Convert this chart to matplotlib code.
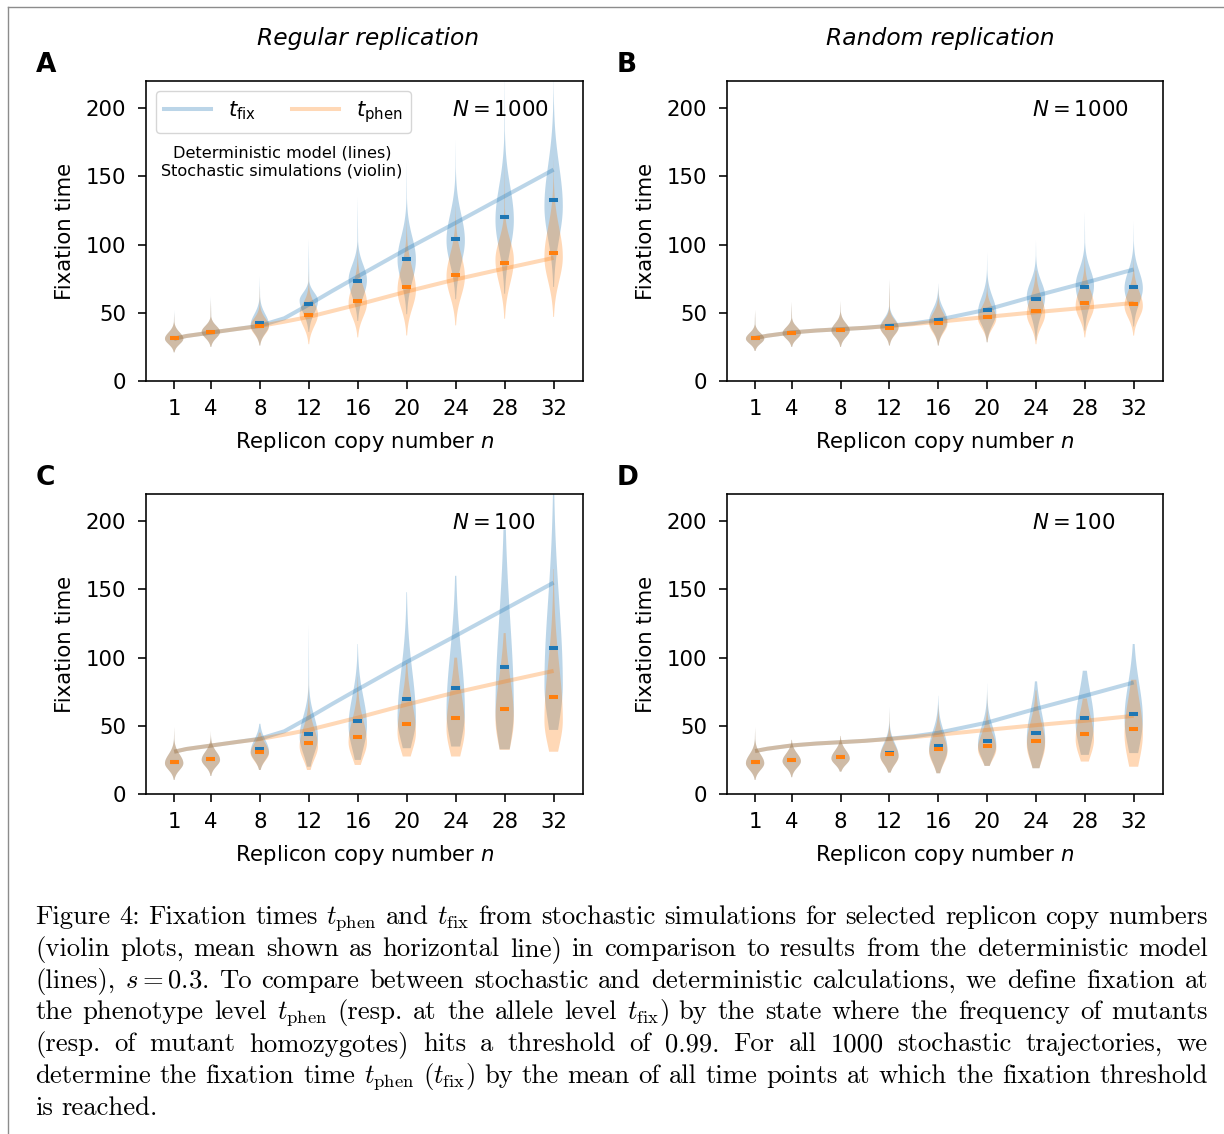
import numpy as np
import matplotlib
matplotlib.use("Agg")
import matplotlib.pyplot as plt
from matplotlib.lines import Line2D

# replicon copy numbers with simulations
n_sim = [1, 4, 8, 12, 16, 20, 24, 28, 32]

# deterministic model curves
line_n = [1, 2, 4, 6, 8, 10, 12, 14, 16, 20, 24, 28, 32]
reg_fix = [31, 33, 35.5, 38, 40.5, 46, 56, 66.5, 76.7, 96.8, 116, 135.5, 155]
reg_phen = [31, 33, 35.5, 38, 40.3, 43.5, 47, 51.5, 56, 65.6, 74.5, 82.5, 90.3]
rand_fix = [31.5, 33.2, 35.6, 37, 38, 39, 40.5, 42.3, 44.9, 52.4, 62.5, 72, 81.8]
rand_phen = [31.5, 33.2, 35.6, 37, 38, 39, 40.3, 41.8, 43.4, 47, 50.5, 53.7, 57.3]

# violin summaries: mean, mode (widest point), lowest and highest value
# A: regular replication, N = 1000
A_fix_mean = [31.5, 36, 42.5, 56.3, 73.3, 89.5, 104.5, 120.5, 133]
A_fix_mode = [31, 36, 41, 59, 74, 89, 103, 118, 128]
A_fix_lo = [21, 25, 26, 36, 44, 49, 60, 64, 69]
A_fix_hi = [52, 62, 77, 104, 135, 162, 177, 230, 230]
A_phen_mean = [31.5, 36, 40.3, 48.4, 58.8, 68.8, 78, 86.6, 94]
A_phen_mode = [31, 36, 40, 49, 57, 66.6, 76.5, 88.8, 91]
A_phen_lo = [21, 25, 26, 27, 32, 33.4, 40.8, 45.7, 47]
A_phen_hi = [50, 60, 70, 81, 103, 118, 128, 162, 162]

# B: random replication, N = 1000
B_fix_mean = [31.4, 35.3, 37.3, 40, 45, 52.2, 60.3, 69, 69]
B_fix_mode = [31, 35, 37, 39.5, 44, 50, 62, 70, 68]
B_fix_lo = [22, 25, 25, 26, 26, 28.4, 30, 37, 40]
B_fix_hi = [52, 58, 58.6, 74.5, 71.3, 94.6, 103, 124, 117]
B_phen_mean = [31.4, 35.3, 37.3, 39.2, 42.6, 46.6, 51.7, 57, 56.6]
B_phen_mode = [31, 35, 37, 39, 42, 46, 49, 55, 55]
B_phen_lo = [22, 25, 25, 26, 26, 28.4, 27, 32, 33.3]
B_phen_hi = [52, 58, 58.6, 74, 70, 76, 81, 91, 90]

# C: regular replication, N = 100
C_fix_mean = [23.8, 26, 33, 44, 53.7, 69.9, 77.7, 93, 107]
C_fix_mode = [22.5, 25, 31, 42, 50, 55, 60, 62, 80]
C_fix_lo = [10.3, 13.2, 17.6, 20, 25, 33.6, 34.8, 32.8, 47]
C_fix_hi = [49, 45.8, 51.5, 124, 110, 148, 160, 194, 225]
C_phen_mean = [23.8, 26, 31, 37.7, 42, 51.5, 55.6, 62.5, 71]
C_phen_mode = [22.5, 25, 30, 35, 38, 45, 48, 55, 54]
C_phen_lo = [10.3, 13.2, 17.6, 17.6, 21.3, 27.5, 27.5, 32.4, 31]
C_phen_hi = [49, 45.8, 45, 86, 86, 96, 100, 118, 165]

# D: random replication, N = 100
D_fix_mean = [23.8, 24.8, 27.2, 30.4, 35.3, 39, 44.4, 55.4, 59]
D_fix_mode = [22.5, 24, 26, 28, 33, 36, 40, 52, 55]
D_fix_lo = [10.3, 12.3, 16.4, 15.7, 15.2, 20.6, 18.9, 28.7, 30]
D_fix_hi = [48.8, 39.7, 42.6, 64, 72, 81, 82.6, 90.4, 110]
D_phen_mean = [23.8, 24.8, 27.2, 29.4, 32.8, 35.5, 39.2, 43.9, 48]
D_phen_mode = [22.5, 24, 26, 27.5, 31, 33, 36, 40, 44]
D_phen_lo = [10.3, 12.3, 16.4, 15.7, 15.2, 20.6, 18.9, 23.8, 20]
D_phen_hi = [48.8, 39.7, 42.6, 62, 65, 76, 76, 70, 83.8]

# bluntness of the lower end of the violins
A_k = [2.5] * 9
B_k = [2.5] * 9
C_k = [2.5, 2.5, 2.2, 1.8, 1.5, 1.3, 1.2, 1.1, 1.2]
D_k = [2.5, 2.5, 2.2, 2.0, 1.8, 1.6, 1.4, 1.3, 1.2]

caption = [
    r"Figure 4: Fixation times $t_{\mathrm{phen}}$ and $t_{\mathrm{fix}}$ from stochastic simulations for selected replicon copy numbers",
    r"(violin plots, mean shown as horizontal line) in comparison to results from the deterministic model",
    r"(lines), $s=0.3$. To compare between stochastic and deterministic calculations, we define fixation at",
    r"the phenotype level $t_{\mathrm{phen}}$ (resp. at the allele level $t_{\mathrm{fix}}$) by the state where the frequency of mutants",
    r"(resp. of mutant homozygotes) hits a threshold of 0.99. For all 1000 stochastic trajectories, we",
    r"determine the fixation time $t_{\mathrm{phen}}$ ($t_{\mathrm{fix}}$) by the mean of all time points at which the fixation threshold",
    r"is reached.",
]

S = 1.45   # line scale of the original figure
FS = 15.3  # base font size
plt.rcParams.update({
    "font.family": "DejaVu Sans",
    "font.size": FS,
    "axes.linewidth": 0.8 * S,
    "xtick.major.size": 5.8, "ytick.major.size": 5.8,
    "xtick.major.width": 0.8 * S, "ytick.major.width": 0.8 * S,
    "xtick.major.pad": 7, "ytick.major.pad": 8.5,
    "legend.fontsize": FS,
})

W, H = 1224, 1134
fig = plt.figure(figsize=(W / 100, H / 100), dpi=100)


def violin_stats(lo, mode, hi, mean, k):
    y = np.linspace(lo, hi, 200)
    s_lo = max(mode - lo, 1) / k
    s_hi = max(s_lo + (mean - mode) * np.sqrt(np.pi / 2), 0.6 * s_lo)
    s = np.where(y < mode, s_lo, s_hi)
    v = np.exp(-0.5 * ((y - mode) / s) ** 2)
    tail = 0.07 * np.clip((hi - y) / max(hi - mode, 1), 0, 1)
    v = np.maximum(v, np.where(y > mode, tail, 0))
    return dict(coords=y, vals=v, mean=mean, median=mode, min=lo, max=hi)


def panel(rect, fix, phen, k, lines, ntext, letter, title=None, title_x=None):
    ax = fig.add_axes(rect)
    lfix, lphen = lines
    ax.plot(line_n, lfix, color="C0", lw=2 * S, alpha=0.3, solid_capstyle="butt")
    ax.plot(line_n, lphen, color="C1", lw=2 * S, alpha=0.3, solid_capstyle="butt")
    for (mean, mode, lo, hi), c in ((fix, "C0"), (phen, "C1")):
        st = [violin_stats(lo[i], mode[i], hi[i], mean[i], k[i]) for i in range(len(n_sim))]
        parts = ax.violin(st, positions=n_sim, widths=1.5,
                          showmeans=True, showextrema=False)
        for b in parts["bodies"]:
            b.set_facecolor(c)
            b.set_edgecolor("none")
            b.set_alpha(0.3)
        parts["cmeans"].set_color(c)
        parts["cmeans"].set_linewidth(2 * S)
    ax.set_xlim(-1.3, 34.4)
    ax.set_ylim(0, 220)
    ax.set_xticks(n_sim)
    ax.set_yticks([0, 50, 100, 150, 200])
    ax.set_xlabel("Replicon copy number $n$")
    ax.set_ylabel("Fixation time")
    ax.yaxis.set_label_coords(-0.163, 0.5)
    ax.xaxis.set_label_coords(0.5, -0.163)
    ax.text(0.70, 0.903, ntext, transform=ax.transAxes, ha="left", va="center")
    x0, y0 = rect[0], rect[1] + rect[3]
    fig.text(x0 - 110 / W, y0 + 16 / H, letter, weight="bold", size=19,
             ha="left", va="center")
    if title:
        fig.text(title_x / W, 1 - 38 / H, title, style="italic",
                 size=16.8, ha="center", va="center")
    return ax


rA = [146 / W, 1 - 381 / H, 437 / W, 300 / H]
rB = [727 / W, 1 - 381 / H, 436 / W, 300 / H]
rC = [146 / W, 1 - 794 / H, 437 / W, 300 / H]
rD = [727 / W, 1 - 794 / H, 436 / W, 300 / H]

axA = panel(rA, (A_fix_mean, A_fix_mode, A_fix_lo, A_fix_hi),
            (A_phen_mean, A_phen_mode, A_phen_lo, A_phen_hi), A_k,
            (reg_fix, reg_phen), "$N = 1000$", "A", "Regular replication", 368)
axB = panel(rB, (B_fix_mean, B_fix_mode, B_fix_lo, B_fix_hi),
            (B_phen_mean, B_phen_mode, B_phen_lo, B_phen_hi), B_k,
            (rand_fix, rand_phen), "$N = 1000$", "B", "Random replication", 940)
axC = panel(rC, (C_fix_mean, C_fix_mode, C_fix_lo, C_fix_hi),
            (C_phen_mean, C_phen_mode, C_phen_lo, C_phen_hi), C_k,
            (reg_fix, reg_phen), "$N = 100$", "C")
axD = panel(rD, (D_fix_mean, D_fix_mode, D_fix_lo, D_fix_hi),
            (D_phen_mean, D_phen_mode, D_phen_lo, D_phen_hi), D_k,
            (rand_fix, rand_phen), "$N = 100$", "D")

handles = [Line2D([], [], color="C0", lw=2 * S, alpha=0.3),
           Line2D([], [], color="C1", lw=2 * S, alpha=0.3)]
axA.legend(handles, [r"$t_{\mathrm{fix}}$", r"$t_{\mathrm{phen}}$"], loc="upper left",
           ncol=2, handlelength=2.2, columnspacing=1.7, borderaxespad=0.45)
axA.text(0.311, 0.73, "Deterministic model (lines)\nStochastic simulations (violin)",
         transform=axA.transAxes, ha="center", va="center", size=11.6,
         linespacing=1.3)

# page frame
fig.add_artist(Line2D([8 / W, 8 / W], [0, 1 - 7 / H], transform=fig.transFigure,
                      color="0.55", lw=1))
fig.add_artist(Line2D([8 / W, 1], [1 - 7 / H, 1 - 7 / H], transform=fig.transFigure,
                      color="0.55", lw=1))

# justified caption
fig.canvas.draw()
renderer = fig.canvas.get_renderer()
x_left, x_right = 35, 1208
for i, line in enumerate(caption):
    y = 1 - (924 + 31.8 * i) / H
    words = line.split(" ")
    texts = [fig.text(0, y, w, family="cmr10", size=19.2,
                      math_fontfamily="cm", va="baseline") for w in words]
    widths = [t.get_window_extent(renderer).width for t in texts]
    if i == len(caption) - 1:
        gap = 8
    else:
        gap = (x_right - x_left - sum(widths)) / (len(words) - 1)
    x = x_left
    for t, w in zip(texts, widths):
        t.set_x(x / W)
        x += w + gap

fig.savefig("out.png", dpi=100)
